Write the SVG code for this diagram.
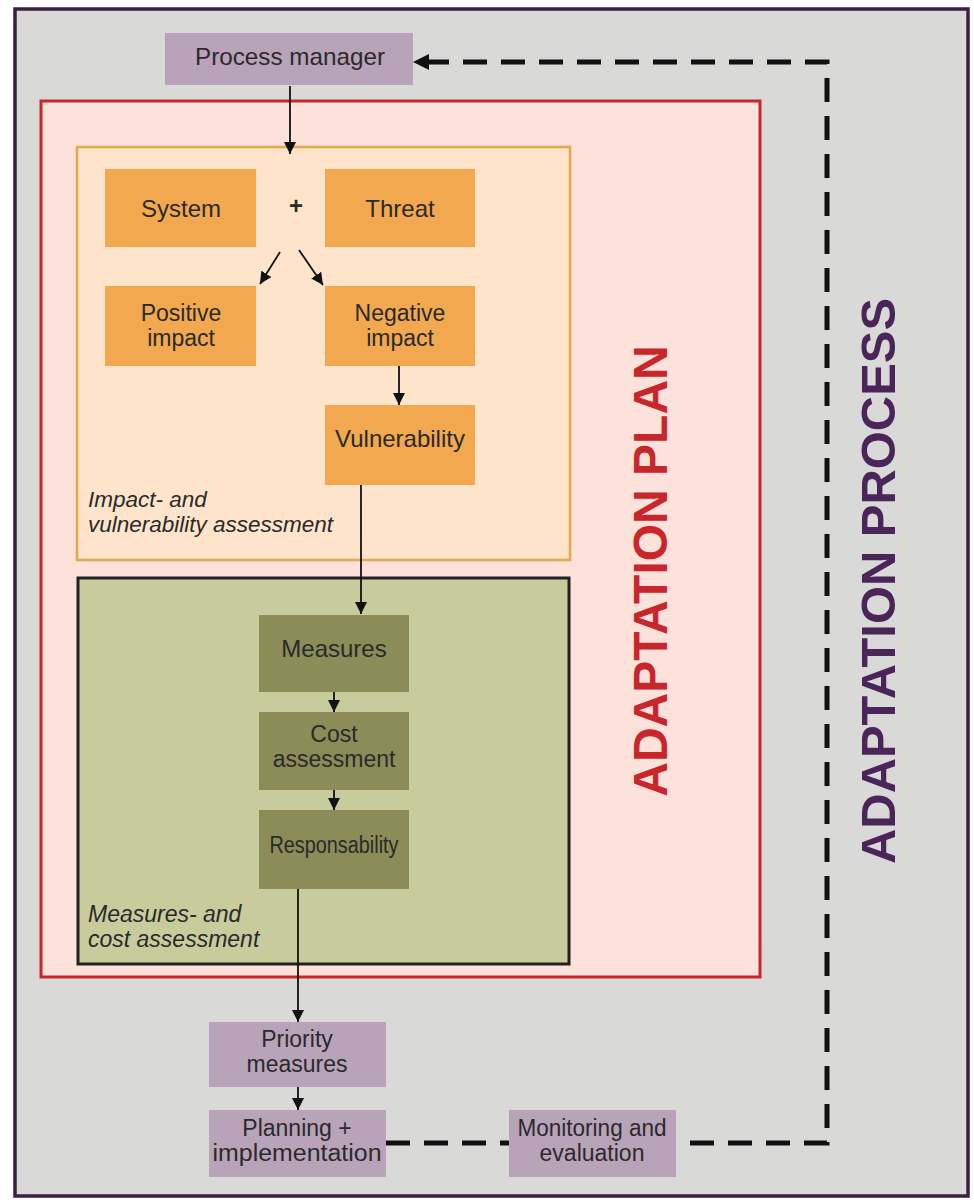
<svg xmlns="http://www.w3.org/2000/svg" width="974" height="1202" viewBox="0 0 974 1202">
<style>
text{font-family:"Liberation Sans",Arial,sans-serif;fill:#2a2a2a;text-anchor:middle;font-size:24px}
.t2{font-size:23px}
.lab{font-style:italic;text-anchor:start}
.big{font-weight:bold;font-size:48px}
.or{fill:#f2a84f}
.gr{fill:#8b8c58}
.mv{fill:#b9a3b9}
.ln{stroke:#111;stroke-width:1.8;fill:none;marker-end:url(#ah)}
</style>
<defs>
<marker id="ah" markerUnits="userSpaceOnUse" markerWidth="12" markerHeight="12" refX="12" refY="6" orient="auto"><path d="M0,0 L12,6 L0,12 z" fill="#111"/></marker>
<marker id="ahd" markerUnits="userSpaceOnUse" markerWidth="16" markerHeight="16" refX="15" refY="8" orient="auto"><path d="M0,0 L16,8 L0,16 z" fill="#111"/></marker>
</defs>
<rect width="974" height="1202" fill="#ffffff"/>
<g id="adaptation-process">
<rect x="15" y="9" width="953" height="1187" fill="#d9dad7" stroke="#3b1e42" stroke-width="3.5"/>
<text class="big" transform="translate(895,581) rotate(-90)" style="fill:#4b2559" textLength="566" lengthAdjust="spacingAndGlyphs">ADAPTATION PROCESS</text>
</g>
<g id="adaptation-plan">
<rect x="41" y="101" width="719" height="876" fill="#fde1db" stroke="#c8262b" stroke-width="3"/>
<text class="big" transform="translate(667,571) rotate(-90)" style="fill:#c8262b">ADAPTATION PLAN</text>
</g>
<g id="impact-assessment">
<rect x="77" y="147" width="493" height="413" fill="#fde4cb" stroke="#e4a84c" stroke-width="2.5"/>
<text class="lab" x="88" y="507" style="font-size:22.5px">Impact- and</text>
<text class="lab" x="88" y="532" style="font-size:22.5px">vulnerability assessment</text>
</g>
<g id="measures-assessment">
<rect x="78" y="578" width="491" height="386" fill="#c8cc9d" stroke="#222" stroke-width="3"/>
<text class="lab" x="88" y="922" style="font-size:23px">Measures- and</text>
<text class="lab" x="88" y="947" style="font-size:23px">cost assessment</text>
</g>
<g id="connectors">
<path class="ln" d="M290,86 V154"/>
<path class="ln" d="M280,252 L260,284"/>
<path class="ln" d="M299,250 L323,285"/>
<path class="ln" d="M399,366 V405"/>
<path class="ln" d="M361,485 V614"/>
<path class="ln" d="M334,692 V712"/>
<path class="ln" d="M334,790 V810"/>
<path class="ln" d="M298,889 V1022"/>
<path class="ln" d="M298,1087 V1110"/>
<path d="M386,1143 H827 V62 H414" fill="none" stroke="#111" stroke-width="5" stroke-dasharray="24 14" marker-end="url(#ahd)"/>
</g>
<g id="process-manager">
<rect class="mv" x="165" y="33" width="248" height="52"/>
<text x="290" y="65" textLength="190" lengthAdjust="spacingAndGlyphs">Process manager</text>
</g>
<g id="plus"><text x="296" y="214" style="font-weight:bold">+</text></g>
<g id="system">
<rect class="or" x="105" y="169" width="151" height="78"/>
<text x="181" y="217">System</text>
</g>
<g id="threat">
<rect class="or" x="325" y="169" width="150" height="78"/>
<text x="400" y="217">Threat</text>
</g>
<g id="positive-impact">
<rect class="or" x="105" y="286" width="151" height="80"/>
<text class="t2" x="181" y="321">Positive</text>
<text class="t2" x="181" y="346">impact</text>
</g>
<g id="negative-impact">
<rect class="or" x="325" y="286" width="150" height="80"/>
<text class="t2" x="400" y="321">Negative</text>
<text class="t2" x="400" y="346">impact</text>
</g>
<g id="vulnerability">
<rect class="or" x="325" y="405" width="150" height="80"/>
<text x="400" y="447">Vulnerability</text>
</g>
<g id="measures">
<rect class="gr" x="259" y="615" width="150" height="77"/>
<text x="334" y="657">Measures</text>
</g>
<g id="cost-assessment">
<rect class="gr" x="259" y="712" width="150" height="78"/>
<text class="t2" x="334" y="742">Cost</text>
<text class="t2" x="334" y="767">assessment</text>
</g>
<g id="responsability">
<rect class="gr" x="259" y="810" width="150" height="79"/>
<text x="334" y="853" style="font-size:23px" textLength="129" lengthAdjust="spacingAndGlyphs">Responsability</text>
</g>
<g id="priority-measures">
<rect class="mv" x="209" y="1022" width="177" height="65"/>
<text class="t2" x="297" y="1047">Priority</text>
<text class="t2" x="297" y="1072">measures</text>
</g>
<g id="planning-implementation">
<rect class="mv" x="209" y="1110" width="177" height="67"/>
<text class="t2" x="297" y="1136">Planning +</text>
<text class="t2" x="297" y="1161" textLength="169" lengthAdjust="spacingAndGlyphs">implementation</text>
</g>
<g id="monitoring-evaluation">
<rect class="mv" x="509" y="1110" width="167" height="67"/>
<text class="t2" x="592" y="1136" textLength="149" lengthAdjust="spacingAndGlyphs">Monitoring and</text>
<text class="t2" x="592" y="1161">evaluation</text>
</g>
</svg>
